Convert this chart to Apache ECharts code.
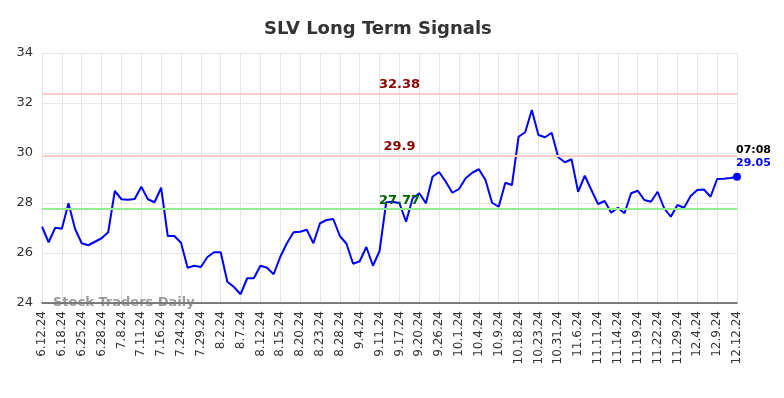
<!DOCTYPE html>
<html>
<head>
<meta charset="utf-8">
<script src="https://cdn.jsdelivr.net/npm/echarts@6/dist/echarts.min.js"></script>
<style>
  html, body { margin: 0; padding: 0; background: #fff; }
  #chart { width: 784px; height: 398px; }
</style>
</head>
<body>
<div id="chart"></div>
<script>
// visible date labels, one every third point
const dateLabels = ['6.12.24', '6.18.24', '6.25.24', '6.28.24', '7.8.24', '7.11.24', '7.16.24', '7.24.24',
  '7.29.24', '8.2.24', '8.7.24', '8.12.24', '8.15.24', '8.20.24', '8.23.24', '8.28.24', '9.4.24',
  '9.11.24', '9.17.24', '9.20.24', '9.26.24', '10.1.24', '10.4.24', '10.9.24', '10.18.24', '10.23.24',
  '10.31.24', '11.6.24', '11.11.24', '11.14.24', '11.19.24', '11.22.24', '11.29.24', '12.4.24',
  '12.9.24', '12.12.24']

const prices = [
  27.05, 26.43, 27.01, 26.97, 27.99, 26.96, 26.39, 26.31, 26.45, 26.59,
  26.83, 28.48, 28.15, 28.13, 28.16, 28.65, 28.15, 28.03, 28.61, 26.68,
  26.68, 26.41, 25.41, 25.49, 25.44, 25.84, 26.03, 26.03, 24.85, 24.64,
  24.35, 24.99, 24.99, 25.49, 25.41, 25.15, 25.85, 26.39, 26.83, 26.85,
  26.93, 26.39, 27.19, 27.32, 27.36, 26.68, 26.37, 25.57, 25.67, 26.24,
  25.49, 26.08, 28.03, 28.05, 27.99, 27.25, 28.19, 28.39, 27.99, 29.05,
  29.24, 28.85, 28.41, 28.56, 28.99, 29.21, 29.35, 28.92, 28.01, 27.85,
  28.81, 28.72, 30.65, 30.83, 31.72, 30.72, 30.63, 30.81, 29.83, 29.63,
  29.75, 28.45, 29.09, 28.52, 27.96, 28.08, 27.61, 27.81, 27.59, 28.39,
  28.49, 28.12, 28.05, 28.45, 27.79, 27.45, 27.92, 27.81, 28.28, 28.52,
  28.54, 28.25, 28.96, 28.97, 29.0, 29.05
]

const resistanceLevels = [32.38, 29.9]
const supportLevels = [27.77]
const lastTime = '07:08'
const yTicks = { min: 24, max: 34, interval: 2 }

// category per point: the label, then two unlabeled points
const categories = []
dateLabels.forEach((d, i) => {
  categories.push(d)
  if (i < dateLabels.length - 1) categories.push('', '')
})

const lastIdx = prices.length - 1
const lastVal = prices[lastIdx]

const levelLine = (v, lineColor, textColor) => ({
  yAxis: v,
  lineStyle: { color: lineColor, width: 2, type: 'solid' },
  label: {
    show: true,
    position: 'middle',
    formatter: String(v),
    color: textColor,
    fontWeight: 'bold',
    fontSize: 13,
    distance: 2,
    offset: [10, 0]
  }
})

const chart = echarts.init(document.getElementById('chart'))

chart.setOption({
  animation: false,
  textStyle: { fontFamily: 'DejaVu Sans' },
  title: {
    text: 'SLV Long Term Signals',
    left: 259,
    top: 15,
    textStyle: { fontSize: 18, fontWeight: 'bold', color: '#333' }
  },
  grid: { left: 42, right: 47, top: 53, bottom: 95 },
  xAxis: {
    type: 'category',
    boundaryGap: false,
    data: categories,
    axisLine: { lineStyle: { color: '#555', width: 1.5 } },
    axisTick: { show: false },
    axisLabel: { interval: 2, rotate: 90, fontSize: 12, color: '#333', margin: 8 },
    splitLine: { show: true, interval: 2, lineStyle: { color: '#e6e6e6' } }
  },
  yAxis: {
    type: 'value',
    min: yTicks.min,
    max: yTicks.max,
    interval: yTicks.interval,
    axisLine: { show: false },
    axisTick: { show: false },
    axisLabel: { fontSize: 13, color: '#333', margin: 9 },
    splitLine: { lineStyle: { color: '#e6e6e6' } }
  },
  graphic: [{
    type: 'text',
    left: 53,
    top: 296,
    z: 100,
    style: { text: 'Stock Traders Daily', fill: 'rgba(120,120,120,0.75)', fontSize: 13, fontWeight: 'bold', fontFamily: 'DejaVu Sans' }
  }],
  series: [{
    type: 'line',
    data: prices,
    showSymbol: false,
    lineStyle: { color: '#0000ff', width: 2 },
    itemStyle: { color: '#0000ff' },
    markLine: {
      silent: true,
      symbol: 'none',
      data: [
        ...resistanceLevels.map(v => levelLine(v, '#ffcccc', '#8b0000')),
        ...supportLevels.map(v => levelLine(v, '#90ee90', '#006400'))
      ]
    },
    markPoint: {
      silent: true,
      symbol: 'circle',
      symbolSize: 8,
      itemStyle: { color: '#0000ff' },
      data: [{
        coord: [lastIdx, lastVal],
        label: {
          show: true,
          position: 'top',
          align: 'left',
          distance: 3,
          offset: [-1, 0],
          formatter: '{t|' + lastTime + '}\n{v|' + lastVal.toFixed(2) + '}',
          rich: {
            t: { color: '#000', fontWeight: 'bold', fontSize: 11, lineHeight: 13 },
            v: { color: '#0000ff', fontWeight: 'bold', fontSize: 11, lineHeight: 13 }
          }
        }
      }]
    }
  }]
})
</script>
</body>
</html>
